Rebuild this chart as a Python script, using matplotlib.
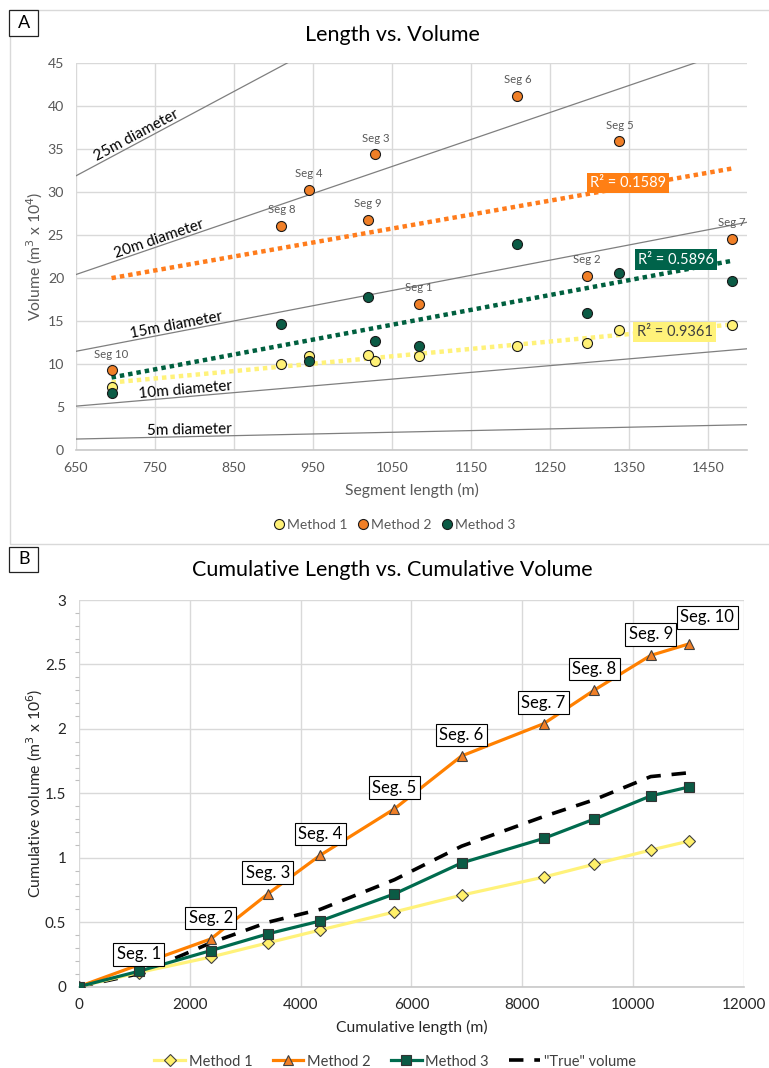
import numpy as np
import matplotlib
matplotlib.use("Agg")
import matplotlib.pyplot as plt
from matplotlib.lines import Line2D
from matplotlib.patches import Rectangle

plt.rcParams['font.family'] = ['Lato', 'DejaVu Sans']

# ---------------- Panel A: per-segment length and volume (m^3 x 10^4) ----------------
segments = ["Seg 1", "Seg 2", "Seg 3", "Seg 4", "Seg 5",
            "Seg 6", "Seg 7", "Seg 8", "Seg 9", "Seg 10"]
seg_length = [1084, 1297, 1029, 945, 1338, 1209, 1480, 910, 1020, 695]
vol_m1 = [10.9, 12.4, 10.3, 10.9, 14.0, 12.1, 14.5, 10.0, 11.0, 7.3]
vol_m2 = [17.0, 20.3, 34.4, 30.3, 35.9, 41.2, 24.6, 26.1, 26.8, 9.3]
vol_m3 = [12.1, 15.9, 12.7, 10.4, 20.6, 24.0, 19.7, 14.7, 17.8, 6.6]
r2_text = ["R² = 0.9361", "R² = 0.1589", "R² = 0.5896"]
diameters = [5, 10, 15, 20, 25]
methods = ["Method 1", "Method 2", "Method 3"]

# ---------------- Panel B: cumulative length and volume (m^3 x 10^6) ----------------
cum_length = [0, 1084, 2381, 3410, 4355, 5693, 6902, 8382, 9292, 10312, 11007]
cum_m1 = [0, 0.11, 0.23, 0.34, 0.44, 0.58, 0.71, 0.85, 0.95, 1.06, 1.13]
cum_m2 = [0, 0.17, 0.37, 0.72, 1.02, 1.38, 1.79, 2.04, 2.30, 2.57, 2.66]
cum_m3 = [0, 0.12, 0.28, 0.41, 0.51, 0.72, 0.96, 1.15, 1.30, 1.48, 1.55]
cum_true = [0, 0.10, 0.34, 0.50, 0.60, 0.83, 1.09, 1.32, 1.45, 1.63, 1.66]
seg_tags = ["Seg. 1", "Seg. 2", "Seg. 3", "Seg. 4", "Seg. 5",
            "Seg. 6", "Seg. 7", "Seg. 8", "Seg. 9", "Seg. 10"]

W, H = 769, 1068
fig = plt.figure(figsize=(W / 100, H / 100), dpi=100)


def fx(x):
    return x / W


def fy(y):
    return 1 - y / H


GRID = "#d9d9d9"
TICK = "#595959"
YEL_FILL, ORA_FILL, GRN_FILL = "#fff176", "#f07f27", "#0b5b45"
YEL_LINE, ORA_LINE, GRN_LINE = "#fff27a", "#ff8000", "#006b4e"

# frame around panel A and panel letters
fig.patches.append(Rectangle((fx(10), fy(544)), fx(790) - fx(10), fy(10) - fy(544),
                             transform=fig.transFigure, fill=False,
                             edgecolor=GRID, lw=1.0))
for letter, top in (("A", 10), ("B", 546.7)):
    fig.patches.append(Rectangle((fx(9.3), fy(top + 25.5)), fx(29), 25.5 / H,
                                 transform=fig.transFigure, facecolor="white",
                                 edgecolor="#222222", lw=0.9, zorder=5))
    fig.text(fx(23.8), fy(top + 12.8), letter, ha="center", va="center",
             fontsize=13, zorder=6)

# ======================= Panel A =======================
axA = fig.add_axes([fx(76), fy(450), fx(747.3) - fx(76), (450 - 63.3) / H])
axA.set_xlim(650, 1500)
axA.set_ylim(0, 45)
axA.set_xticks(np.arange(650, 1451, 100))
axA.set_yticks(np.arange(0, 46, 5))
axA.grid(True, color=GRID, lw=1.0)
axA.set_axisbelow(True)
for s in axA.spines.values():
    s.set_visible(False)
axA.spines["bottom"].set_visible(True)
axA.spines["bottom"].set_color("#c8c8c8")
axA.spines["bottom"].set_linewidth(1.2)
axA.tick_params(length=0, labelsize=10.2, labelcolor=TICK, pad=8.5)

# reference lines for tubes of constant diameter: V = pi (d/2)^2 L
xl = np.array([650, 1500])
lab_x = {5: 794, 10: 789, 15: 779, 20: 758, 25: 731}
for d in diameters:
    k = np.pi * (d / 2) ** 2 / 1e4
    axA.plot(xl, k * xl, color="#7f7f7f", lw=0.9, zorder=1)
    x0 = lab_x[d]
    p1 = axA.transData.transform((x0 - 20, k * (x0 - 20)))
    p2 = axA.transData.transform((x0 + 20, k * (x0 + 20)))
    ang = np.degrees(np.arctan2(p2[1] - p1[1], p2[0] - p1[0]))
    off = 2.0
    axA.annotate(f"{d}m diameter", xy=(x0, k * x0),
                 xytext=(-np.sin(np.radians(ang)) * off, np.cos(np.radians(ang)) * off),
                 textcoords="offset points", rotation=ang, rotation_mode="anchor",
                 ha="center", va="baseline", fontsize=11, color="black", zorder=2)

# linear trendlines
series_A = [(vol_m1, YEL_FILL, YEL_LINE), (vol_m2, ORA_FILL, ORA_LINE), (vol_m3, GRN_FILL, GRN_LINE)]
trend_cols = [YEL_LINE, "#ff7c1c", "#00603f"]
xs = np.array(seg_length, dtype=float)
xfit = np.array([xs.min(), xs.max()])
for (vals, fc, lc), tc in zip(series_A, trend_cols):
    b1, b0 = np.polyfit(xs, np.array(vals), 1)
    axA.plot(xfit, b0 + b1 * xfit, color=tc, lw=3.2, linestyle=(0, (1, 0.9)),
             dash_capstyle="butt", zorder=2)

for vals, fc, lc in series_A:
    axA.plot(seg_length, vals, linestyle="none", marker="o", ms=7.2,
             mfc=fc, mec="#1a1a1a", mew=0.8, zorder=4)

for name, x, y in zip(segments, seg_length, vol_m2):
    axA.annotate(name, xy=(x, y), xytext=(0, 11.5), textcoords="offset points",
                 ha="center", va="center", fontsize=8.2, color=TICK, zorder=5)

# R^2 boxes
r2_pos = [(1408, 13.7), (1349, 31.1), (1410, 22.15)]
r2_box = [("#fff27a", "#404040"), ("#ff7f14", "white"), ("#00634a", "white")]
for txt, (x, y), (bg, fg) in zip(r2_text, r2_pos, r2_box):
    axA.text(x, y, txt, ha="center", va="center", fontsize=10.5, color=fg, zorder=6,
             bbox=dict(boxstyle="square,pad=0.22", fc=bg, ec="none"))

fig.text(fx(392.5), fy(35), "Length vs. Volume", ha="center", va="center", fontsize=15.5)
fig.text(fx(411.7), fy(490), "Segment length (m)", ha="center", va="center",
         fontsize=11.3, color=TICK)
fig.text(fx(35), fy(256.6), "Volume (m$^3$ x 10$^4$)", ha="center", va="center",
         rotation=90, fontsize=11.3, color=TICK)

hA = [Line2D([], [], linestyle="none", marker="o", ms=7.2, mfc=fc, mec="#1a1a1a", mew=0.8)
      for _, fc, _ in series_A]
fig.legend(hA, methods, loc="center", bbox_to_anchor=(fx(394.5), fy(525)), ncol=3,
           frameon=False, fontsize=10, labelcolor=TICK, handlelength=0.8,
           handletextpad=0.15, columnspacing=0.75)

# ======================= Panel B =======================
axB = fig.add_axes([fx(78.7), fy(986.7), fx(744.3) - fx(78.7), (986.7 - 600) / H])
axB.set_xlim(0, 12000)
axB.set_ylim(0, 3)
axB.set_xticks(np.arange(0, 12001, 2000))
axB.set_yticks(np.arange(0, 3.01, 0.5))
axB.set_yticklabels(["0", "0.5", "1", "1.5", "2", "2.5", "3"])
axB.set_yticks(np.arange(0, 3.001, 0.1), minor=True)
axB.grid(True, which="major", color=GRID, lw=1.0)
axB.set_axisbelow(True)
for s in axB.spines.values():
    s.set_visible(False)
axB.spines["bottom"].set_visible(True)
axB.spines["bottom"].set_color("#c8c8c8")
axB.spines["bottom"].set_linewidth(1.2)
axB.tick_params(which="major", length=0, labelsize=11, labelcolor="#262626", pad=9)
axB.tick_params(axis="x", pad=8)
axB.tick_params(axis="y", which="minor", length=3, color="#bfbfbf", width=0.8)

axB.plot(cum_length, cum_true, color="black", lw=2.6, linestyle=(0, (4, 3)),
         zorder=2, label='"True" volume')
axB.plot(cum_length, cum_m1, color=YEL_LINE, lw=2.3, marker="D", ms=6.2,
         mfc="#fff06a", mec="#404040", mew=0.8, zorder=3, label="Method 1")
axB.plot(cum_length, cum_m2, color=ORA_LINE, lw=2.3, marker="^", ms=7.5,
         mfc=ORA_FILL, mec="#404040", mew=0.8, zorder=3, label="Method 2")
axB.plot(cum_length, cum_m3, color=GRN_LINE, lw=2.3, marker="s", ms=7.5,
         mfc=GRN_FILL, mec="#333333", mew=0.8, zorder=4, label="Method 3")

for i, (tag, x, y) in enumerate(zip(seg_tags, cum_length[1:], cum_m2[1:])):
    dx, dy = 0, -15.2
    if i == 0:
        dy = -7.5
    elif i == len(seg_tags) - 1:
        dx, dy = 13, -19
    axB.annotate(tag, xy=(x, y), xytext=(dx, -dy), textcoords="offset points",
                 ha="center", va="center", fontsize=12, zorder=6,
                 bbox=dict(boxstyle="square,pad=0.2", fc="white", ec="black", lw=0.8))

fig.text(fx(392), fy(570), "Cumulative Length vs. Cumulative Volume", ha="center",
         va="center", fontsize=15.5)
fig.text(fx(411.5), fy(1027), "Cumulative length (m)", ha="center", va="center",
         fontsize=11.3, color="#262626")
fig.text(fx(35), fy(793), "Cumulative volume (m$^3$ x 10$^6$)", ha="center",
         va="center", rotation=90, fontsize=11.3, color="#262626")

hB, lB = axB.get_legend_handles_labels()
order = [1, 2, 3, 0]
fig.legend([hB[i] for i in order], [lB[i] for i in order], loc="center",
           bbox_to_anchor=(fx(395), fy(1061.5)), ncol=4, frameon=False, fontsize=10.5,
           labelcolor="#404040", handlelength=2.1, handletextpad=0.25, columnspacing=1.4)

fig.savefig("out.png", dpi=100)
